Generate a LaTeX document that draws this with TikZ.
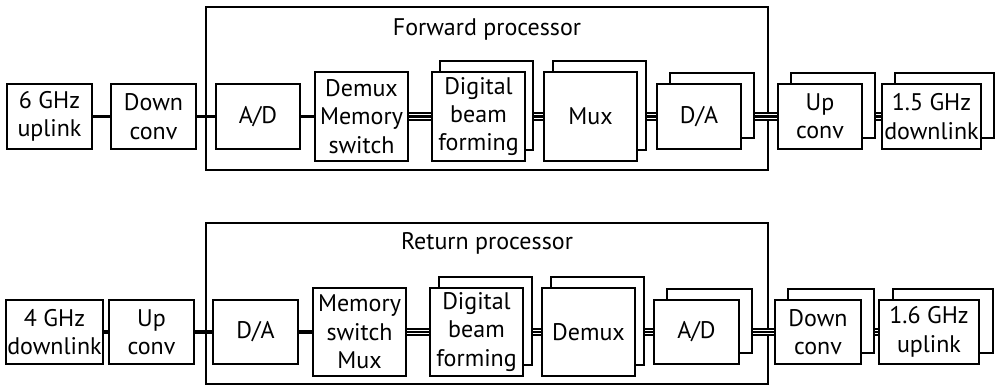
\documentclass[tikz,border=0pt]{standalone}
\usepackage{fontspec}
\setmainfont{PT Sans}
\usetikzlibrary{shadows,backgrounds}

\begin{document}
\begin{tikzpicture}[x=0.5pt,y=-0.5pt,font=\fontsize{12}{14.2}\selectfont,
  main node/.style={draw,line width=1pt,fill=white,align=center,inner sep=0pt,minimum height=32.5pt},
  big node/.style={main node,minimum height=44.5pt,minimum width=46.5pt},
  stack node/.style={copy shadow={shadow xshift=#1,shadow yshift=5.5pt}},
  stack node/.default=6.5pt,
  link/.style={line width=1.7pt},
  bus/.style={line width=4.2pt,postaction={draw=white,line width=2.2pt,postaction={draw=black,line width=1.1pt}}},
  frame/.style={draw,line width=0.9pt}]
\useasboundingbox (0,0) rectangle (998,386);

% forward chain
\node[main node,minimum width=42.5pt] (up6) at (49.5,116.5) {6 GHz\\uplink};
\node[main node,minimum width=42.5pt] (dconvA) at (153.5,116.5) {Down\\conv};
\node[main node,minimum width=42pt] (adA) at (258,116.5) {A/D};
\node[big node] (demA) at (361.5,116.5) {Demux\\Memory\\switch};
\node[big node,stack node=4pt] (dbfA) at (478.5,116.5) {Digital\\beam\\forming};
\node[big node,stack node=4.5pt] (muxA) at (590.5,116.5) {Mux};
\node[main node,minimum width=42pt,stack node] (daA) at (699,116.5) {D/A};
\node[main node,minimum width=42pt,stack node] (ucA) at (820,116.5) {Up\\conv};
\node[main node,minimum width=49.5pt,stack node] (dl15) at (931.5,116.5) {1.5 GHz\\downlink};
\node (fwdtitle) at (487,29) {Forward processor};

% return chain
\node[main node,minimum width=48.5pt,minimum height=32pt] (dl4) at (54.5,332) {4 GHz\\downlink};
\node[main node,minimum width=42.5pt,minimum height=32pt] (ucB) at (151.5,332) {Up\\conv};
\node[main node,minimum width=42.5pt,minimum height=32pt] (daB) at (255.5,332) {D/A};
\node[big node,minimum height=44pt] (msB) at (359.5,332) {Memory\\switch\\Mux};
\node[big node,minimum height=44pt,stack node=4.5pt] (dbfB) at (476.5,332) {Digital\\beam\\forming};
\node[big node,minimum height=44pt,stack node=4.5pt] (demB) at (588.5,332) {Demux};
\node[main node,minimum width=42.5pt,minimum height=32pt,stack node] (adB) at (696.5,332) {A/D};
\node[main node,minimum width=43pt,minimum height=32pt,stack node] (dcB) at (818,332) {Down\\conv};
\node[main node,minimum width=50pt,minimum height=32pt,stack node=7pt] (ul16) at (929,332) {1.6 GHz\\uplink};
\node (rettitle) at (487,243) {Return processor};

\begin{pgfonlayer}{background}
\draw[frame] (206,7) rectangle (768,170);
\draw[frame] (206,223) rectangle (768,384);
\draw[link] (up6) -- (dconvA);
\draw[link] (dconvA) -- (adA);
\draw[link] (adA) -- (demA);
\draw[bus] (demA) -- (dbfA);
\draw[bus] (dbfA) -- (muxA);
\draw[bus] (muxA) -- (daA);
\draw[bus] (daA) -- (ucA);
\draw[bus] (ucA) -- (dl15);
\draw[link] (dl4) -- (ucB);
\draw[link] (ucB) -- (daB);
\draw[link] (daB) -- (msB);
\draw[bus] (msB) -- (dbfB);
\draw[bus] (dbfB) -- (demB);
\draw[bus] (demB) -- (adB);
\draw[bus] (adB) -- (dcB);
\draw[bus] (dcB) -- (ul16);
\end{pgfonlayer}
\end{tikzpicture}
\end{document}
